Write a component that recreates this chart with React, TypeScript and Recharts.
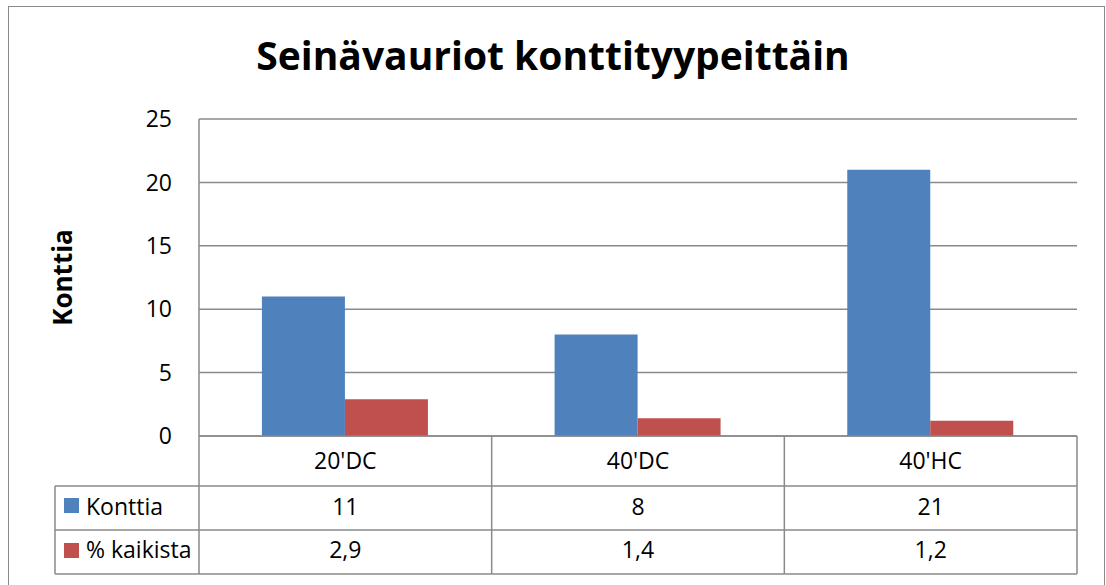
import React from 'react'
import { BarChart, Bar, XAxis, YAxis, CartesianGrid } from 'recharts'

const categories = ["20'DC", "40'DC", "40'HC"]
const konttia = [11, 8, 21]
const kaikista = [2.9, 1.4, 1.2]
const yTicks = [0, 5, 10, 15, 20, 25]

const data = categories.map((name, i) => ({
   name,
   konttia: konttia[i],
   kaikista: kaikista[i],
}))

const BLUE = '#4F81BD'
const RED = '#C0504D'
const LINE = '#8a8a8a'
const FONT = '"Open Sans", sans-serif'

const fmt = (v: number) => String(v).replace('.', ',')

const TableTick = (props: any) => {
   const { x, y, payload } = props
   const i = payload.index
   const half = payload.offset || 146
   const left = x - half
   const right = x + half
   const lineProps = { stroke: LINE, strokeWidth: 1.5 }
   const textProps = { fontSize: 23, fontFamily: FONT, fill: '#000', textAnchor: 'middle' as const }
   return (
      <g>
         <line x1={right} y1={y} x2={right} y2={y + 138} {...lineProps} />
         {i === 0 && <line x1={left} y1={y} x2={left} y2={y + 138} {...lineProps} />}
         <line x1={left} y1={y + 50} x2={right} y2={y + 50} {...lineProps} />
         <line x1={left} y1={y + 94} x2={right} y2={y + 94} {...lineProps} />
         <line x1={left} y1={y + 138} x2={right} y2={y + 138} {...lineProps} />
         <text x={x} y={y + 33} {...textProps}>{categories[i]}</text>
         <text x={x} y={y + 79} {...textProps}>{konttia[i]}</text>
         <text x={x} y={y + 122} {...textProps}>{fmt(kaikista[i])}</text>
         {i === 0 && (
            <g>
               <line x1={left - 144} y1={y + 50} x2={left - 144} y2={y + 138} {...lineProps} />
               <line x1={left - 144} y1={y + 50} x2={left} y2={y + 50} {...lineProps} />
               <line x1={left - 144} y1={y + 94} x2={left} y2={y + 94} {...lineProps} />
               <line x1={left - 144} y1={y + 138} x2={left} y2={y + 138} {...lineProps} />
               <rect x={left - 135} y={y + 62} width={15} height={15} fill={BLUE} />
               <rect x={left - 135} y={y + 107} width={15} height={15} fill={RED} />
               <text x={left - 113} y={y + 79} {...textProps} textAnchor="start">Konttia</text>
               <text x={left - 113} y={y + 122} {...textProps} textAnchor="start">% kaikista</text>
            </g>
         )}
      </g>
   )
}

const YLabel = (props: any) => {
   const { viewBox } = props
   const cy = viewBox.y + viewBox.height / 2
   const cx = viewBox.x + 72
   return (
      <text
         x={cx}
         y={cy}
         transform={`rotate(-90, ${cx}, ${cy})`}
         textAnchor="middle"
         fontSize={26}
         fontWeight="bold"
         fontFamily={FONT}
         fill="#000"
      >
         Konttia
      </text>
   )
}

export default function App() {
   return (
      <div
         style={{
            position: 'absolute',
            left: 0,
            top: 0,
            width: 1106,
            height: 585,
            overflow: 'hidden',
            background: '#fff',
            fontFamily: FONT,
         }}
      >
         <div
            style={{
               position: 'absolute',
               left: 8,
               top: 6,
               width: 1095,
               height: 590,
               border: `1.5px solid ${LINE}`,
            }}
         />
         <svg width={1106} height={100} style={{ position: 'absolute', left: 0, top: 0 }}>
            <text x={553} y={70} textAnchor="middle" fontSize={39} fontWeight="bold" fontFamily={FONT} fill="#000">
               Seinävauriot konttityypeittäin
            </text>
         </svg>
         <div style={{ position: 'absolute', left: 0, top: 0 }}>
            <BarChart
               width={1106}
               height={585}
               data={data}
               margin={{ top: 119, right: 29, bottom: 11, left: 0 }}
               barCategoryGap="21.5%"
               barGap={0}
            >
               <CartesianGrid vertical={false} stroke={LINE} strokeWidth={1.5} />
               <XAxis
                  dataKey="name"
                  height={138}
                  tickLine={false}
                  tickSize={0}
                  tickMargin={0}
                  axisLine={{ stroke: LINE, strokeWidth: 1.5 }}
                  tick={<TableTick />}
                  interval={0}
               />
               <YAxis
                  width={199}
                  domain={[0, 25]}
                  ticks={yTicks}
                  tickLine={false}
                  tickMargin={21}
                  axisLine={{ stroke: LINE, strokeWidth: 1.5 }}
                  tick={{ fontSize: 23, fontFamily: FONT, fill: '#000' }}
                  label={<YLabel />}
               />
               <Bar dataKey="konttia" name="Konttia" fill={BLUE} isAnimationActive={false} />
               <Bar dataKey="kaikista" name="% kaikista" fill={RED} isAnimationActive={false} />
            </BarChart>
         </div>
      </div>
   )
}
